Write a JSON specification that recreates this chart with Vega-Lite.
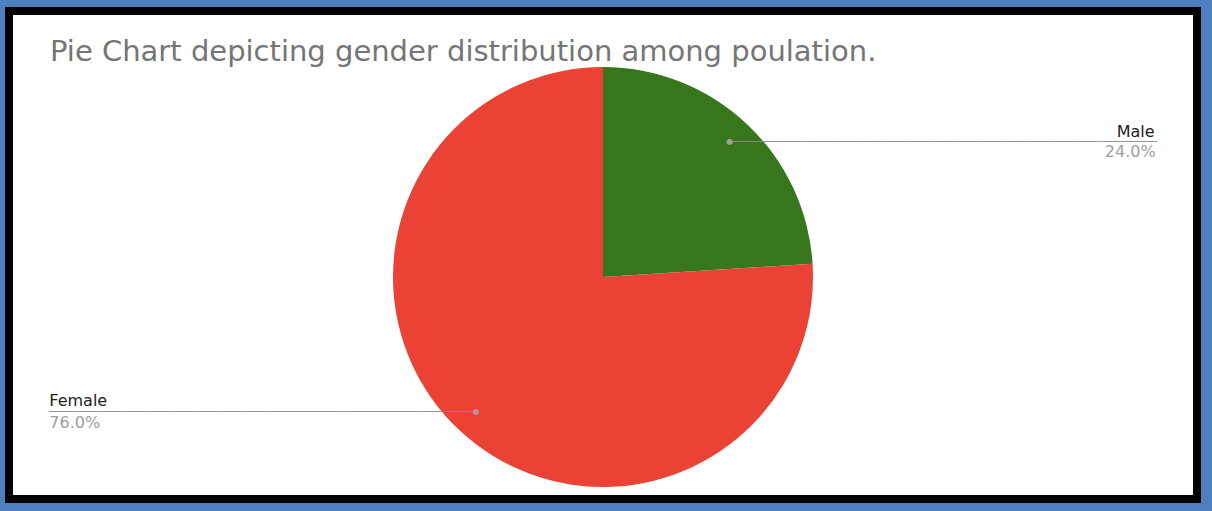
{
  "$schema": "https://vega.github.io/schema/vega-lite/v6.json",
  "width": 1212,
  "height": 511,
  "autosize": {"type": "fit", "contains": "padding"},
  "padding": {"left": 5, "top": 7, "right": 11, "bottom": 8},
  "background": "#4f7fbf",
  "title": {
    "text": "Pie Chart depicting gender distribution among poulation.",
    "anchor": "start",
    "frame": "group",
    "orient": "top",
    "offset": -83,
    "dx": 41,
    "baseline": "alphabetic",
    "font": "DejaVu Sans",
    "fontSize": 29,
    "fontWeight": "normal",
    "color": "#757575"
  },
  "data": {"values": [
    {"gender": "Male", "share": 0.24},
    {"gender": "Female", "share": 0.76}
  ]},
  "layer": [
    {
      "mark": {"type": "rect", "fill": "white", "stroke": "black", "strokeWidth": 8},
      "encoding": {}
    },
    {
      "mark": {"type": "arc", "outerRadius": 210, "y": {"expr": "height/2 + 22"}},
      "encoding": {
        "theta": {"field": "share", "type": "quantitative", "stack": true},
        "order": {"field": "gender", "sort": "descending"},
        "color": {"field": "gender", "type": "nominal", "scale": {"domain": ["Male", "Female"], "range": ["#38761d", "#ea4335"]}, "legend": null}
      }
    },
    {
      "mark": {"type": "text", "radius": 185, "y": {"expr": "height/2 + 22"}, "font": "DejaVu Sans", "fontSize": 10, "align": "left", "baseline": "middle", "color": "#8a8a8a"},
      "encoding": {
        "theta": {"field": "share", "type": "quantitative", "stack": true},
        "order": {"field": "gender", "sort": "descending"},
        "text": {"condition": {"test": "datum.gender == 'Male'", "value": "───────────────────────────────────────────────────────────────────────"}, "value": ""}
      }
    },
    {
      "mark": {"type": "text", "radius": 185, "y": {"expr": "height/2 + 22"}, "font": "DejaVu Sans", "fontSize": 10, "align": "right", "baseline": "middle", "color": "#8a8a8a"},
      "encoding": {
        "theta": {"field": "share", "type": "quantitative", "stack": true},
        "order": {"field": "gender", "sort": "descending"},
        "text": {"condition": {"test": "datum.gender == 'Female'", "value": "───────────────────────────────────────────────────────────────────────"}, "value": ""}
      }
    },
    {
      "mark": {"type": "text", "radius": 185, "y": {"expr": "height/2 + 22"}, "font": "DejaVu Sans", "fontSize": 8, "align": "center", "baseline": "middle", "color": "#9e9e9e"},
      "encoding": {
        "theta": {"field": "share", "type": "quantitative", "stack": true},
        "order": {"field": "gender", "sort": "descending"},
        "text": {"value": "●"}
      }
    },
    {
      "mark": {"type": "text", "radius": 185, "y": {"expr": "height/2 + 22"}, "font": "DejaVu Sans", "fontSize": 16, "align": "right", "baseline": "alphabetic", "dx": 425, "dy": -5, "color": "#222222"},
      "encoding": {
        "theta": {"field": "share", "type": "quantitative", "stack": true},
        "order": {"field": "gender", "sort": "descending"},
        "text": {"condition": {"test": "datum.gender == 'Male'", "field": "gender", "type": "nominal"}, "value": ""}
      }
    },
    {
      "mark": {"type": "text", "radius": 185, "y": {"expr": "height/2 + 22"}, "font": "DejaVu Sans", "fontSize": 16, "align": "right", "baseline": "alphabetic", "dx": 426, "dy": 15, "color": "#9e9e9e"},
      "encoding": {
        "theta": {"field": "share", "type": "quantitative", "stack": true},
        "order": {"field": "gender", "sort": "descending"},
        "text": {"condition": {"test": "datum.gender == 'Male'", "field": "share", "type": "quantitative", "format": ".1%"}, "value": ""}
      }
    },
    {
      "mark": {"type": "text", "radius": 185, "y": {"expr": "height/2 + 22"}, "font": "DejaVu Sans", "fontSize": 16, "align": "left", "baseline": "alphabetic", "dx": -427, "dy": -6, "color": "#222222"},
      "encoding": {
        "theta": {"field": "share", "type": "quantitative", "stack": true},
        "order": {"field": "gender", "sort": "descending"},
        "text": {"condition": {"test": "datum.gender == 'Female'", "field": "gender", "type": "nominal"}, "value": ""}
      }
    },
    {
      "mark": {"type": "text", "radius": 185, "y": {"expr": "height/2 + 22"}, "font": "DejaVu Sans", "fontSize": 16, "align": "left", "baseline": "alphabetic", "dx": -427, "dy": 16, "color": "#9e9e9e"},
      "encoding": {
        "theta": {"field": "share", "type": "quantitative", "stack": true},
        "order": {"field": "gender", "sort": "descending"},
        "text": {"condition": {"test": "datum.gender == 'Female'", "field": "share", "type": "quantitative", "format": ".1%"}, "value": ""}
      }
    }
  ]
}
